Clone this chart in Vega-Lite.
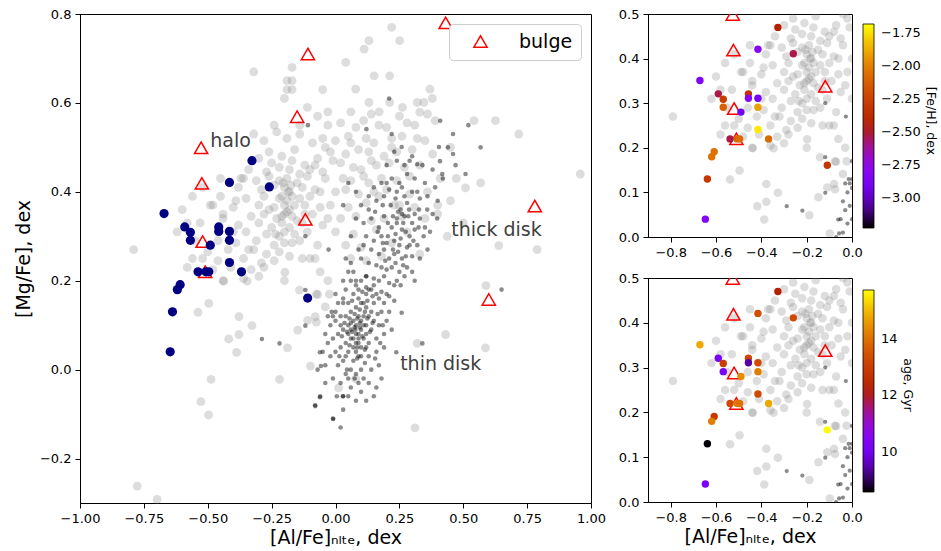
{
"$schema": "https://vega.github.io/schema/vega-lite/v6.json",
"background": "white",
"padding": {"left": 13, "top": 7, "right": 2, "bottom": 0},
"config": {
  "font": "DejaVu Sans",
  "view": {"stroke": "black", "strokeWidth": 1},
  "axis": {"grid": false, "domainColor": "black", "tickColor": "black", "labelColor": "black", "titleColor": "black", "labelFontSize": 13, "titleFontSize": 19, "titleFontWeight": "normal", "tickSize": 5, "labelPadding": 4, "labelFlush": false, "labelOverlap": false, "domainWidth": 1, "tickWidth": 1},
  "legend": {"labelFontSize": 13, "titleFontSize": 12.5, "titleFontWeight": "normal", "labelColor": "black", "titleColor": "black"}
},
"datasets": {
"gray": [
{"x":-0.79,"y":0.27},{"x":-0.776,"y":-0.262},{"x":-0.698,"y":-0.292},{"x":-0.527,"y":-0.072},{"x":-0.497,"y":-0.102},{"x":-0.487,"y":-0.022},{"x":-0.418,"y":0.069},{"x":-0.387,"y":0.039},{"x":-0.378,"y":0.079},{"x":-0.378,"y":0.119},{"x":-0.327,"y":0.099},{"x":-0.219,"y":-0.022},{"x":-0.188,"y":0.049},{"x":-0.148,"y":0.089},{"x":-0.098,"y":0.008},{"x":-0.079,"y":0.119},{"x":-0.141,"y":0.179},{"x":-0.07,"y":0.169},{"x":-0.538,"y":0.129},{"x":-0.496,"y":0.149},{"x":-0.4375,"y":0.199},{"x":-0.346,"y":0.199},{"x":-0.198,"y":0.219},{"x":-0.04,"y":0.141},{"x":-0.109,"y":0.111},{"x":0.012,"y":-0.041},{"x":0.311,"y":-0.131},{"x":0.431,"y":0.079},{"x":0.32,"y":0.059},{"x":0.587,"y":0.049},{"x":0.589,"y":0.189},{"x":0.079,"y":-0.021},
{"x":-0.13,"y":0.25},{"x":-0.08,"y":0.25},{"x":-0.075,"y":0.17},{"x":-0.024,"y":0.17},{"x":-0.075,"y":0.107},{"x":-0.03,"y":0.2},{"x":-0.06,"y":0.22},
{"x":0.22,"y":0.77},{"x":0.131,"y":0.74},{"x":0.251,"y":0.74},{"x":0.112,"y":0.721},{"x":0.04,"y":0.691},{"x":0.151,"y":0.661},{"x":0.212,"y":0.661},{"x":0.079,"y":0.631},{"x":0.37,"y":0.631},{"x":0.379,"y":0.61},{"x":0.06,"y":0.58},{"x":0.131,"y":0.601},{"x":0.171,"y":0.58},{"x":0.212,"y":0.601},{"x":0.262,"y":0.59},{"x":0.32,"y":0.601},{"x":0.346,"y":0.601},{"x":0.33,"y":0.579},{"x":0.36,"y":0.575},{"x":0.542,"y":0.56},{"x":0.626,"y":0.56},{"x":0.717,"y":0.53},{"x":0.958,"y":0.44},{"x":0.568,"y":0.42},{"x":0.509,"y":0.409},{"x":0.639,"y":0.279},{"x":0.789,"y":0.27},{"x":0.4375,"y":0.30},{"x":0.473,"y":0.43},{"x":0.45,"y":0.38},{"x":0.40,"y":0.35},
{"x":-0.03,"y":0.55},{"x":0.02,"y":0.555},{"x":0.08,"y":0.545},{"x":0.11,"y":0.56},{"x":0.17,"y":0.55},{"x":0.20,"y":0.545},{"x":0.28,"y":0.555},{"x":0.31,"y":0.55},
{"x":-0.05,"y":0.52},{"x":0.0,"y":0.515},{"x":0.05,"y":0.525},{"x":0.12,"y":0.52},{"x":0.15,"y":0.51},{"x":0.22,"y":0.52},{"x":0.26,"y":0.525},{"x":0.35,"y":0.515},
{"x":-0.02,"y":0.49},{"x":0.04,"y":0.485},{"x":0.09,"y":0.495},{"x":0.13,"y":0.49},{"x":0.19,"y":0.48},{"x":0.24,"y":0.49},{"x":0.30,"y":0.495},{"x":0.38,"y":0.485},
{"x":-0.08,"y":0.46},{"x":0.02,"y":0.465},{"x":0.07,"y":0.455},{"x":0.16,"y":0.46},{"x":0.21,"y":0.465},{"x":0.27,"y":0.455},{"x":0.33,"y":0.46},
{"x":-0.04,"y":0.43},{"x":0.06,"y":0.425},{"x":0.11,"y":0.435},{"x":0.18,"y":0.43},{"x":0.24,"y":0.425},{"x":0.29,"y":0.435},{"x":0.41,"y":0.43},
{"x":0.0,"y":0.40},{"x":0.04,"y":0.405},{"x":0.09,"y":0.395},{"x":0.15,"y":0.40},{"x":0.20,"y":0.405},{"x":0.29,"y":0.395},{"x":0.36,"y":0.40},
{"x":-0.02,"y":0.37},{"x":0.05,"y":0.365},{"x":0.12,"y":0.375},{"x":0.23,"y":0.37},{"x":0.31,"y":0.365},{"x":0.40,"y":0.37},
{"x":0.02,"y":0.34},{"x":0.08,"y":0.345},{"x":0.14,"y":0.335},{"x":0.19,"y":0.34},{"x":0.26,"y":0.345},{"x":0.35,"y":0.34},
{"x":0.0,"y":0.31},{"x":0.07,"y":0.305},{"x":0.16,"y":0.315},{"x":0.28,"y":0.31},
{"x":0.04,"y":0.28},{"x":0.10,"y":0.275},{"x":0.22,"y":0.285},
{"x":0.06,"y":0.25},{"x":0.12,"y":0.245},{"x":0.18,"y":0.255},
{"x":-0.32,"y":0.53},{"x":-0.28,"y":0.515},{"x":-0.23,"y":0.535},{"x":-0.19,"y":0.52},{"x":-0.14,"y":0.53},{"x":-0.09,"y":0.51},
{"x":-0.30,"y":0.475},{"x":-0.25,"y":0.465},{"x":-0.21,"y":0.48},{"x":-0.17,"y":0.47},{"x":-0.12,"y":0.46},{"x":-0.07,"y":0.475},
{"x":-0.34,"y":0.45},{"x":-0.27,"y":0.445},{"x":-0.22,"y":0.455},{"x":-0.18,"y":0.45},{"x":-0.14,"y":0.44},{"x":-0.10,"y":0.45},{"x":-0.05,"y":0.445},
{"x":-0.36,"y":0.43},{"x":-0.31,"y":0.425},{"x":-0.26,"y":0.435},{"x":-0.22,"y":0.425},{"x":-0.19,"y":0.43},{"x":-0.15,"y":0.42},{"x":-0.11,"y":0.435},
{"x":-0.38,"y":0.41},{"x":-0.29,"y":0.405},{"x":-0.24,"y":0.415},{"x":-0.20,"y":0.41},{"x":-0.18,"y":0.40},{"x":-0.13,"y":0.41},{"x":-0.08,"y":0.405},
{"x":-0.45,"y":0.39},{"x":-0.35,"y":0.385},{"x":-0.28,"y":0.39},{"x":-0.22,"y":0.385},{"x":-0.19,"y":0.38},{"x":-0.17,"y":0.39},{"x":-0.14,"y":0.385},{"x":-0.10,"y":0.39},
{"x":-0.48,"y":0.37},{"x":-0.40,"y":0.365},{"x":-0.30,"y":0.37},{"x":-0.26,"y":0.36},{"x":-0.20,"y":0.37},{"x":-0.18,"y":0.36},{"x":-0.12,"y":0.37},{"x":-0.06,"y":0.365},
{"x":-0.44,"y":0.35},{"x":-0.33,"y":0.345},{"x":-0.28,"y":0.35},{"x":-0.23,"y":0.34},{"x":-0.20,"y":0.35},{"x":-0.17,"y":0.345},{"x":-0.15,"y":0.335},{"x":-0.09,"y":0.35},
{"x":-0.53,"y":0.33},{"x":-0.38,"y":0.325},{"x":-0.30,"y":0.33},{"x":-0.25,"y":0.32},{"x":-0.21,"y":0.33},{"x":-0.18,"y":0.32},{"x":-0.13,"y":0.33},{"x":-0.05,"y":0.325},
{"x":-0.35,"y":0.31},{"x":-0.27,"y":0.305},{"x":-0.22,"y":0.30},{"x":-0.20,"y":0.31},{"x":-0.16,"y":0.305},{"x":-0.11,"y":0.31},
{"x":-0.55,"y":0.29},{"x":-0.39,"y":0.285},{"x":-0.31,"y":0.29},{"x":-0.24,"y":0.28},{"x":-0.20,"y":0.285},{"x":-0.14,"y":0.29},{"x":-0.07,"y":0.28},
{"x":-0.50,"y":0.265},{"x":-0.32,"y":0.27},{"x":-0.27,"y":0.26},{"x":-0.22,"y":0.265},{"x":-0.18,"y":0.255},
{"x":-0.56,"y":0.25},{"x":-0.46,"y":0.245},{"x":-0.36,"y":0.25},{"x":-0.29,"y":0.24},{"x":-0.24,"y":0.245},{"x":-0.10,"y":0.25},
{"x":-0.58,"y":0.23},{"x":-0.48,"y":0.225},{"x":-0.41,"y":0.23},{"x":-0.33,"y":0.225},{"x":-0.28,"y":0.23},
{"x":-0.44,"y":0.20},{"x":-0.36,"y":0.205},{"x":-0.20,"y":0.20},
{"x":-0.45,"y":0.43},{"x":-0.52,"y":0.41},{"x":-0.56,"y":0.39},{"x":-0.58,"y":0.33},{"x":-0.49,"y":0.37},{"x":-0.44,"y":0.34},{"x":-0.39,"y":0.38},{"x":-0.37,"y":0.43},
{"x":-0.32,"y":0.67},{"x":-0.17,"y":0.68},{"x":-0.19,"y":0.65},{"x":-0.17,"y":0.65},{"x":-0.19,"y":0.63},{"x":-0.17,"y":0.63},{"x":-0.20,"y":0.61},{"x":-0.11,"y":0.59},{"x":-0.05,"y":0.63},{"x":-0.07,"y":0.57},{"x":-0.24,"y":0.55},{"x":-0.14,"y":0.55},{"x":-0.03,"y":0.58},
{"x":-0.26,"y":0.49},{"x":-0.16,"y":0.495},{"x":-0.04,"y":0.50},{"x":-0.21,"y":0.39},{"x":-0.19,"y":0.355},{"x":-0.21,"y":0.345},{"x":-0.185,"y":0.40},{"x":-0.205,"y":0.42},{"x":-0.175,"y":0.415},{"x":-0.24,"y":0.365},{"x":-0.16,"y":0.37},{"x":-0.235,"y":0.305},{"x":-0.17,"y":0.285},{"x":-0.12,"y":0.35},{"x":-0.01,"y":0.47},{"x":0.14,"y":0.47},{"x":0.22,"y":0.50},{"x":0.06,"y":0.51},{"x":0.10,"y":0.45},{"x":0.25,"y":0.37},{"x":0.17,"y":0.39},{"x":0.03,"y":0.43},{"x":0.13,"y":0.42},{"x":-0.06,"y":0.40},{"x":-0.03,"y":0.34},{"x":0.32,"y":0.52},{"x":0.39,"y":0.56},{"x":0.25,"y":0.57},{"x":0.14,"y":0.575},{"x":0.45,"y":0.50},{"x":0.50,"y":0.33},{"x":0.33,"y":0.26},{"x":-0.62,"y":0.31},{"x":-0.60,"y":0.36},{"x":-0.40,"y":0.31},{"x":-0.42,"y":0.27},{"x":-0.46,"y":0.29},{"x":-0.34,"y":0.27},{"x":-0.52,"y":0.25},{"x":-0.30,"y":0.21}
],
"dark": [
{"x":0.078,"y":0.09},{"x":0.06,"y":0.07},{"x":0.09,"y":0.06},{"x":0.10,"y":0.09},{"x":0.07,"y":0.11},{"x":0.05,"y":0.10},{"x":0.11,"y":0.07},{"x":0.08,"y":0.04},{"x":0.04,"y":0.06},{"x":0.12,"y":0.10},{"x":0.09,"y":0.12},{"x":0.06,"y":0.13},{"x":0.03,"y":0.09},{"x":0.13,"y":0.06},{"x":0.10,"y":0.03},{"x":0.07,"y":0.02},{"x":0.05,"y":0.04},{"x":0.02,"y":0.05},{"x":0.14,"y":0.09},{"x":0.11,"y":0.12},{"x":0.08,"y":0.14},{"x":0.04,"y":0.12},{"x":0.01,"y":0.08},{"x":0.15,"y":0.11},{"x":0.12,"y":0.14},{"x":0.09,"y":0.16},{"x":0.05,"y":0.15},{"x":0.02,"y":0.12},{"x":0.16,"y":0.07},{"x":0.13,"y":0.03},{"x":0.10,"y":0.00},{"x":0.06,"y":0.00},{"x":0.03,"y":0.02},{"x":0.00,"y":0.04},{"x":0.17,"y":0.10},{"x":0.14,"y":0.13},{"x":0.11,"y":0.15},{"x":0.07,"y":0.17},{"x":0.03,"y":0.15},{"x":0.00,"y":0.11},{"x":-0.01,"y":0.07},{"x":0.18,"y":0.13},{"x":0.15,"y":0.15},{"x":0.12,"y":0.17},{"x":0.08,"y":0.19},{"x":0.04,"y":0.18},{"x":0.01,"y":0.15},{"x":-0.02,"y":0.10},{"x":0.16,"y":0.04},{"x":0.19,"y":0.08},{"x":0.14,"y":0.00},{"x":0.11,"y":-0.02},{"x":0.08,"y":-0.01},{"x":0.04,"y":-0.01},{"x":0.01,"y":0.01},{"x":-0.02,"y":0.03},{"x":0.20,"y":0.11},{"x":0.17,"y":0.16},{"x":0.13,"y":0.18},{"x":0.10,"y":0.20},{"x":0.06,"y":0.20},{"x":-0.03,"y":0.06},{"x":0.02,"y":-0.03},{"x":0.06,"y":-0.04},{"x":0.10,"y":-0.05},{"x":0.13,"y":-0.03},{"x":0.17,"y":0.01},{"x":0.19,"y":0.05},{"x":-0.04,"y":0.01},{"x":-0.01,"y":-0.02},{"x":0.03,"y":-0.06},{"x":0.08,"y":-0.07},{"x":0.15,"y":-0.06},{"x":0.16,"y":-0.04},{"x":-0.06,"y":-0.06},{"x":-0.08,"y":-0.08},{"x":-0.01,"y":-0.11},{"x":0.005,"y":-0.06},{"x":0.05,"y":-0.06},{"x":0.05,"y":-0.02},{"x":0.09,"y":0.08},{"x":0.07,"y":0.05},{"x":0.10,"y":0.05},{"x":0.06,"y":0.09},{"x":0.08,"y":0.10},{"x":0.11,"y":0.10},{"x":0.09,"y":0.03},{"x":0.12,"y":0.08},{"x":0.05,"y":0.08},{"x":0.07,"y":0.07},{"x":0.08,"y":0.06},{"x":0.10,"y":0.11},{"x":0.04,"y":0.03},{"x":0.13,"y":0.12},{"x":0.02,"y":0.10},{"x":0.12,"y":0.05},{"x":0.21,"y":0.13},{"x":0.22,"y":0.09},{"x":0.238,"y":0.039},{"x":0.20,"y":0.17},{"x":-0.05,"y":0.04},{"x":-0.07,"y":0.00},{"x":-0.04,"y":-0.03},{"x":0.00,"y":0.13},{"x":-0.03,"y":0.12},{"x":0.18,"y":-0.02},{"x":0.03,"y":0.20},{"x":0.12,"y":0.21},{"x":0.05,"y":0.22},{"x":-0.118,"y":0.179},{"x":-0.118,"y":0.099},{"x":0.23,"y":0.19},{"x":0.255,"y":0.19},{"x":0.31,"y":0.2},{"x":0.259,"y":0.128},{"x":0.34,"y":0.059},{"x":0.65,"y":0.18},{"x":-0.288,"y":0.069},{"x":-0.219,"y":0.059},{"x":-0.061,"y":0.039},{"x":-0.057,"y":0.008},{"x":-0.061,"y":-0.062},{"x":-0.079,"y":-0.082},{"x":-0.009,"y":-0.111},{"x":0.029,"y":-0.06},{"x":-0.04,"y":0.08},{"x":-0.027,"y":0.27},{"x":-0.118,"y":0.30},{"x":-0.01,"y":0.12},{"x":0.09,"y":0.07},{"x":0.08,"y":0.08},{"x":0.085,"y":0.05},{"x":0.06,"y":0.105},{"x":0.095,"y":0.135},{"x":0.115,"y":0.045},
{"x":0.065,"y":0.085},{"x":0.075,"y":0.095},{"x":0.085,"y":0.115},{"x":0.095,"y":0.095},{"x":0.105,"y":0.075},{"x":0.055,"y":0.055},{"x":0.045,"y":0.085},{"x":0.125,"y":0.115},{"x":0.135,"y":0.085},{"x":0.115,"y":0.13},{"x":0.075,"y":0.125},{"x":0.095,"y":0.105},{"x":0.085,"y":0.025},{"x":0.055,"y":0.115},{"x":0.035,"y":0.105},{"x":0.145,"y":0.105},{"x":0.125,"y":0.155},{"x":0.105,"y":0.175},{"x":0.065,"y":0.155},{"x":0.025,"y":0.075},{"x":0.015,"y":0.03},{"x":0.045,"y":0.0},{"x":0.075,"y":-0.02},{"x":0.115,"y":0.015},{"x":0.155,"y":0.025},{"x":0.175,"y":0.06},{"x":0.185,"y":0.10},{"x":0.165,"y":0.125},{"x":0.145,"y":0.165},{"x":0.09,"y":0.18},{"x":0.03,"y":0.16},{"x":-0.015,"y":0.13},{"x":0.0,"y":0.17},{"x":0.06,"y":0.24},{"x":0.15,"y":0.19},{"x":0.19,"y":0.15},{"x":0.09,"y":-0.03},{"x":0.12,"y":-0.07},{"x":0.03,"y":-0.09},{"x":0.02,"y":-0.13},
{"x":0.216,"y":0.37},{"x":0.255,"y":0.36},{"x":0.288,"y":0.36},{"x":0.327,"y":0.36},{"x":0.359,"y":0.36},{"x":0.398,"y":0.34},{"x":0.24,"y":0.34},{"x":0.27,"y":0.345},{"x":0.30,"y":0.33},{"x":0.33,"y":0.34},{"x":0.35,"y":0.32},{"x":0.22,"y":0.32},{"x":0.26,"y":0.315},{"x":0.29,"y":0.30},{"x":0.31,"y":0.315},{"x":0.345,"y":0.30},{"x":0.37,"y":0.31},{"x":0.12,"y":0.30},{"x":0.15,"y":0.29},{"x":0.18,"y":0.30},{"x":0.20,"y":0.285},{"x":0.23,"y":0.29},{"x":0.25,"y":0.28},{"x":0.28,"y":0.275},{"x":0.32,"y":0.28},{"x":0.14,"y":0.27},{"x":0.17,"y":0.26},{"x":0.19,"y":0.27},{"x":0.21,"y":0.25},{"x":0.23,"y":0.26},{"x":0.26,"y":0.25},{"x":0.30,"y":0.255},{"x":0.10,"y":0.25},{"x":0.13,"y":0.24},{"x":0.16,"y":0.235},{"x":0.18,"y":0.23},{"x":0.20,"y":0.225},{"x":0.22,"y":0.23},{"x":0.25,"y":0.22},{"x":0.28,"y":0.23},{"x":0.12,"y":0.21},{"x":0.15,"y":0.205},{"x":0.17,"y":0.20},{"x":0.19,"y":0.21},{"x":0.21,"y":0.195},{"x":0.24,"y":0.20},{"x":0.14,"y":0.18},{"x":0.16,"y":0.17},{"x":0.18,"y":0.175},{"x":0.21,"y":0.165},{"x":0.23,"y":0.155},{"x":0.08,"y":0.34},{"x":0.11,"y":0.33},{"x":0.14,"y":0.34},{"x":0.17,"y":0.32},{"x":0.19,"y":0.345},{"x":0.10,"y":0.37},{"x":0.13,"y":0.36},{"x":0.16,"y":0.38},{"x":0.19,"y":0.39},{"x":0.21,"y":0.405},{"x":0.24,"y":0.40},{"x":0.27,"y":0.39},{"x":0.30,"y":0.40},{"x":0.33,"y":0.385},{"x":0.36,"y":0.39},{"x":0.15,"y":0.41},{"x":0.18,"y":0.42},{"x":0.22,"y":0.43},{"x":0.25,"y":0.42},{"x":0.28,"y":0.44},{"x":0.31,"y":0.43},{"x":0.35,"y":0.42},{"x":0.39,"y":0.41},{"x":0.42,"y":0.43},{"x":0.20,"y":0.46},{"x":0.24,"y":0.47},{"x":0.27,"y":0.46},{"x":0.30,"y":0.48},{"x":0.34,"y":0.46},{"x":0.38,"y":0.45},{"x":0.05,"y":0.42},{"x":0.08,"y":0.40},{"x":0.03,"y":0.37},{"x":0.06,"y":0.30},{"x":0.09,"y":0.27},{"x":0.07,"y":0.22},{"x":0.04,"y":0.25},{"x":0.24,"y":0.33},{"x":0.29,"y":0.28},{"x":0.26,"y":0.35},
{"x":0.225,"y":0.345},{"x":0.245,"y":0.355},{"x":0.265,"y":0.33},{"x":0.285,"y":0.345},{"x":0.31,"y":0.35},{"x":0.205,"y":0.33},{"x":0.235,"y":0.305},{"x":0.275,"y":0.31},{"x":0.325,"y":0.32},{"x":0.205,"y":0.30},{"x":0.255,"y":0.295},{"x":0.305,"y":0.29},{"x":0.225,"y":0.27},{"x":0.245,"y":0.265},{"x":0.275,"y":0.255},{"x":0.195,"y":0.245},{"x":0.235,"y":0.24},{"x":0.265,"y":0.235},{"x":0.185,"y":0.285},{"x":0.165,"y":0.31},{"x":0.155,"y":0.355},{"x":0.185,"y":0.37},{"x":0.235,"y":0.385},{"x":0.28,"y":0.375},{"x":0.32,"y":0.40},{"x":0.26,"y":0.41},{"x":0.20,"y":0.42},{"x":0.13,"y":0.39},{"x":0.11,"y":0.28},{"x":0.08,"y":0.20},{"x":0.12,"y":0.185},{"x":0.10,"y":0.15},{"x":0.27,"y":0.21},{"x":0.30,"y":0.22},{"x":0.33,"y":0.25},{"x":0.36,"y":0.27},{"x":0.38,"y":0.35},{"x":0.40,"y":0.38},{"x":0.29,"y":0.47},{"x":0.23,"y":0.49},
{"x":0.21,"y":0.61},{"x":0.52,"y":0.55},{"x":0.121,"y":0.541},{"x":0.22,"y":0.53},{"x":0.46,"y":0.53},{"x":0.259,"y":0.501},{"x":0.405,"y":0.501},{"x":0.44,"y":0.50},{"x":0.568,"y":0.50},{"x":0.46,"y":0.485},{"x":0.409,"y":0.469},{"x":0.32,"y":0.462},{"x":0.47,"y":0.46},{"x":0.509,"y":0.44},{"x":0.418,"y":0.44},{"x":-0.108,"y":0.55},{"x":0.41,"y":0.56}
],
"halo": [
{"x":-0.327,"y":0.470,"feh":-2.45,"age":12.2},
{"x":-0.415,"y":0.421,"feh":-2.80,"age":13.4},
{"x":-0.259,"y":0.411,"feh":-2.53,"age":13.3},
{"x":-0.671,"y":0.351,"feh":-2.82,"age":14.8},
{"x":-0.590,"y":0.321,"feh":-2.53,"age":10.2},
{"x":-0.568,"y":0.309,"feh":-2.27,"age":13.0},
{"x":-0.457,"y":0.321,"feh":-2.32,"age":13.2},
{"x":-0.457,"y":0.311,"feh":-2.80,"age":9.4},
{"x":-0.415,"y":0.311,"feh":-2.89,"age":13.3},
{"x":-0.568,"y":0.291,"feh":-2.11,"age":10.2},
{"x":-0.490,"y":0.280,"feh":-2.92,"age":14.4},
{"x":-0.415,"y":0.291,"feh":-1.91,"age":14.2},
{"x":-0.415,"y":0.241,"feh":-1.73,"age":13.3},
{"x":-0.538,"y":0.220,"feh":-2.53,"age":13.3},
{"x":-0.507,"y":0.220,"feh":-2.10,"age":14.2},
{"x":-0.496,"y":0.220,"feh":-2.08,"age":14.0},
{"x":-0.368,"y":0.220,"feh":-2.08,"age":14.8},
{"x":-0.608,"y":0.191,"feh":-2.05,"age":12.9},
{"x":-0.619,"y":0.180,"feh":-2.05,"age":14.2},
{"x":-0.638,"y":0.130,"feh":-2.30,"age":8.6},
{"x":-0.647,"y":0.040,"feh":-2.82,"age":10.3},
{"x":-0.109,"y":0.161,"feh":-2.30,"age":15.7}
],
"bulge": [
{"x":-0.526,"y":0.499,"grp":"bulge"},{"x":-0.523,"y":0.419,"grp":"bulge"},{"x":-0.52,"y":0.288,"grp":"bulge"},{"x":-0.51,"y":0.22,"grp":"bulge"},{"x":-0.15,"y":0.569,"grp":"bulge"},{"x":-0.108,"y":0.71,"grp":"bulge"},{"x":-0.118,"y":0.338,"grp":"bulge"},{"x":0.431,"y":0.78,"grp":"bulge"},{"x":0.78,"y":0.368,"grp":"bulge"},{"x":0.60,"y":0.158,"grp":"bulge"}
],
"labels": [
{"x":-0.49,"y":0.50,"t":"halo"},{"x":0.453,"y":0.30,"t":"thick disk"},{"x":0.253,"y":0.0,"t":"thin disk"}
]
},
"bounds": "flush",
"spacing": 57,
"resolve": {"scale": {"x": "independent", "y": "independent", "color": "independent", "shape": "independent"}, "legend": {"color": "independent", "shape": "independent"}},
"hconcat": [
{
  "width": 511, "height": 489,
  "encoding": {
    "x": {"field": "x", "type": "quantitative", "scale": {"domain": [-1, 1], "nice": false, "zero": false}, "axis": {"title": "[Al/Fe]ₙₗₜₑ, dex", "values": [-1, -0.75, -0.5, -0.25, 0, 0.25, 0.5, 0.75, 1], "format": ".2f", "titlePadding": 3}},
    "y": {"field": "y", "type": "quantitative", "scale": {"domain": [-0.3, 0.8], "nice": false, "zero": false}, "axis": {"title": "[Mg/Fe], dex", "values": [-0.2, 0, 0.2, 0.4, 0.6, 0.8], "format": ".1f", "titlePadding": 6}}
  },
  "layer": [
    {"data": {"name": "gray"}, "mark": {"type": "circle", "size": 78, "color": "gray", "opacity": 0.27}},
    {"data": {"name": "dark"}, "mark": {"type": "circle", "size": 21, "color": "black", "opacity": 0.45}},
    {"data": {"name": "bulge"}, "mark": {"type": "point", "filled": false, "color": "red", "size": 175, "strokeWidth": 1.5, "opacity": 1},
     "encoding": {"shape": {"field": "grp", "type": "nominal", "scale": {"range": ["triangle-up"]},
       "legend": {"title": null, "orient": "top-right", "offset": 10, "fillColor": "white", "strokeColor": "#cccccc", "cornerRadius": 4, "padding": 8, "labelFontSize": 19, "symbolSize": 175, "symbolStrokeWidth": 1.5, "symbolStrokeColor": "red", "symbolOffset": 14, "labelOffset": 29, "labelLimit": 200}}}},
    {"data": {"name": "halo"}, "mark": {"type": "circle", "size": 85, "color": "#000080", "opacity": 1}},
    {"data": {"name": "labels"}, "mark": {"type": "text", "fontSize": 19, "color": "#404040", "align": "left", "baseline": "alphabetic"}, "encoding": {"text": {"field": "t"}}}
  ]
},
{
  "bounds": "flush",
  "spacing": 41,
  "resolve": {"scale": {"x": "independent", "y": "independent", "color": "independent"}, "legend": {"color": "independent"}},
  "vconcat": [
    {
      "width": 204, "height": 223,
      "encoding": {
        "x": {"field": "x", "type": "quantitative", "scale": {"domain": [-0.9, 0], "nice": false, "zero": false}, "axis": {"title": null, "values": [-0.8, -0.6, -0.4, -0.2, 0], "format": ".1f"}},
        "y": {"field": "y", "type": "quantitative", "scale": {"domain": [0, 0.5], "nice": false, "zero": false}, "axis": {"title": null, "values": [0, 0.1, 0.2, 0.3, 0.4, 0.5], "format": ".1f"}}
      },
      "layer": [
        {"data": {"name": "gray"}, "mark": {"type": "circle", "size": 72, "color": "gray", "opacity": 0.27, "clip": true}},
        {"data": {"name": "dark"}, "mark": {"type": "circle", "size": 18, "color": "black", "opacity": 0.45, "clip": true}},
        {"data": {"name": "bulge"}, "mark": {"type": "point", "shape": "triangle-up", "filled": false, "color": "red", "size": 175, "strokeWidth": 1.5, "opacity": 1, "clip": true}},
        {"data": {"name": "halo"}, "mark": {"type": "circle", "size": 55, "opacity": 1, "clip": true},
         "encoding": {"color": {"field": "feh", "type": "quantitative",
           "scale": {"domain": [-3.227, -3.0725, -2.918, -2.7635, -2.609, -2.4545, -2.3, -2.1455, -1.991, -1.8365, -1.682], "range": ["#000000", "#510096", "#7202f3", "#8c07f3", "#a11096", "#b42000", "#c63700", "#d55700", "#e48300", "#f2ba00", "#ffff00"], "interpolate": "rgb"},
           "legend": {"title": "[Fe/H], dex", "orient": "right", "direction": "vertical", "gradientLength": 204, "gradientThickness": 11, "gradientStrokeColor": "black", "gradientStrokeWidth": 0.8, "values": [-3, -2.75, -2.5, -2.25, -2, -1.75], "format": ".2f", "padding": 10, "offset": 1, "labelOffset": 7, "titleOrient": "right", "titleAngle": 270, "titleAnchor": "middle", "titlePadding": 3}}}}
      ]
    },
    {
      "width": 204, "height": 224,
      "encoding": {
        "x": {"field": "x", "type": "quantitative", "scale": {"domain": [-0.9, 0], "nice": false, "zero": false}, "axis": {"title": "[Al/Fe]ₙₗₜₑ, dex", "values": [-0.8, -0.6, -0.4, -0.2, 0], "format": ".1f", "titlePadding": 3}},
        "y": {"field": "y", "type": "quantitative", "scale": {"domain": [0, 0.5], "nice": false, "zero": false}, "axis": {"title": null, "values": [0, 0.1, 0.2, 0.3, 0.4, 0.5], "format": ".1f"}}
      },
      "layer": [
        {"data": {"name": "gray"}, "mark": {"type": "circle", "size": 72, "color": "gray", "opacity": 0.27, "clip": true}},
        {"data": {"name": "dark"}, "mark": {"type": "circle", "size": 18, "color": "black", "opacity": 0.45, "clip": true}},
        {"data": {"name": "bulge"}, "mark": {"type": "point", "shape": "triangle-up", "filled": false, "color": "red", "size": 175, "strokeWidth": 1.5, "opacity": 1, "clip": true}},
        {"data": {"name": "halo"}, "mark": {"type": "circle", "size": 55, "opacity": 1, "clip": true},
         "encoding": {"color": {"field": "age", "type": "quantitative",
           "scale": {"domain": [8.58, 9.295, 10.01, 10.725, 11.44, 12.155, 12.87, 13.585, 14.3, 15.015, 15.73], "range": ["#000000", "#510096", "#7202f3", "#8c07f3", "#a11096", "#b42000", "#c63700", "#d55700", "#e48300", "#f2ba00", "#ffff00"], "interpolate": "rgb"},
           "legend": {"title": "age, Gyr", "orient": "right", "direction": "vertical", "gradientLength": 202, "gradientThickness": 11, "gradientStrokeColor": "black", "gradientStrokeWidth": 0.8, "values": [10, 12, 14], "format": "d", "padding": 12, "offset": -1, "labelOffset": 7, "titleOrient": "right", "titleAngle": 270, "titleAnchor": "middle", "titlePadding": 3}}}}
      ]
    }
  ]
}
]
}
